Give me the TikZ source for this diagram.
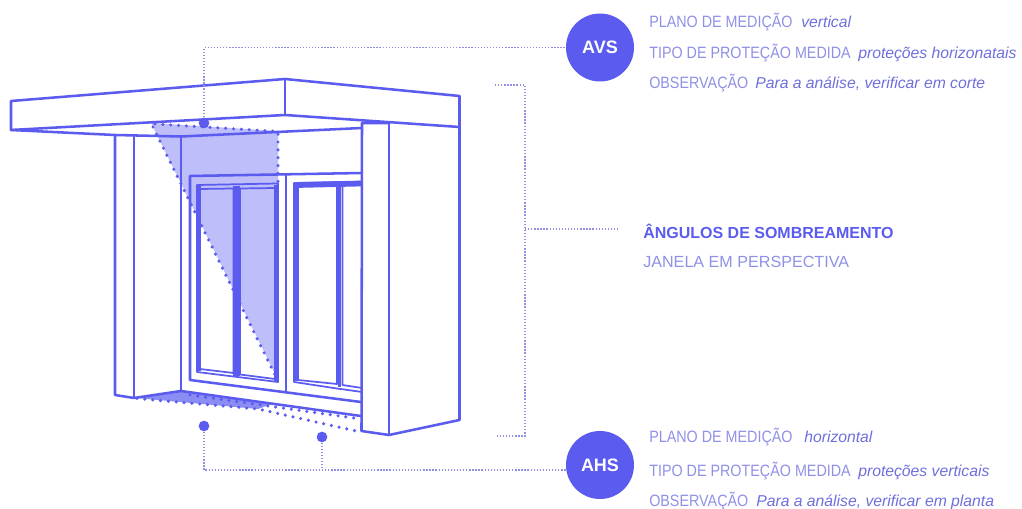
\documentclass[tikz,border=0pt]{standalone}
\usepackage{fontspec}
\setmainfont{Liberation Sans}
\newfontfamily\lblfont[FakeStretch=.874]{Liberation Sans}
\definecolor{azul}{HTML}{5B5BEF}
\definecolor{azulclaro}{HTML}{BDBEFA}
\definecolor{azulmedio}{HTML}{8C8DF4}
\definecolor{rotulo}{HTML}{8F90E6}
\definecolor{valor}{HTML}{6E6FDC}
\tikzset{
  wall/.style={azul,line width=1.9pt,line join=round},
  frame/.style={azul,line width=1.3pt,line join=round},
  solid frame/.style={azul,line width=3.5pt},
  leader/.style={rotulo,line width=1pt,dash pattern=on 1pt off 1.3pt},
  shadow dots/.style={azul,line width=2.6pt,line cap=round,dash pattern=on 0pt off 5.9pt},
  dot/.style={circle,fill=azul,inner sep=0pt,minimum size=8pt},
  badge/.style={circle,fill=azul,text=white,inner sep=0pt,minimum size=51pt,font=\fontsize{13.5}{16}\selectfont\bfseries},
  lbl/.style={anchor=base west,inner sep=0pt,text=rotulo,font=\fontsize{12.3}{14}\lblfont},
  val/.style={anchor=base west,inner sep=0pt,text=valor,font=\fontsize{11.8}{14}\selectfont\itshape},
  title/.style={anchor=base west,inner sep=0pt,text=azul,font=\fontsize{12}{14}\selectfont\bfseries},
  subtitle/.style={anchor=base west,inner sep=0pt,text=rotulo,font=\fontsize{12.1}{14}\selectfont},
}
\begin{document}
\begin{tikzpicture}[x=0.75pt,y=-0.75pt]
    \useasboundingbox (0,0) rectangle (1022,509);
    % sombras
    \fill[azulclaro] (151,123) -- (278,131) -- (278,380) -- (153,127) -- cycle;
    \fill[azulmedio] (136,398) -- (181,391) -- (272,404) -- (258,409) -- cycle;
    % janela esquerda
    \draw[frame] (197,185) -- (278,183.5) -- (278,382) -- (197,372) -- cycle;
    \draw[frame] (200,189) -- (233.5,188.5) -- (233.5,373) -- (200,369) -- cycle;
    \draw[frame] (240,188.5) -- (275,188) -- (275,379) -- (240,374.5) -- cycle;
    \draw[solid frame] (198.5,186) -- (198.5,371);
    \draw[solid frame] (276.5,185) -- (276.5,381);
    \draw[azul,line width=5.2pt] (236.8,186) -- (236.8,376);
    % janela direita
    \draw[frame] (362,181.5) -- (294,183) -- (294,382) -- (337,388.5) -- (362,392);
    \draw[frame] (362,185.5) -- (298,187) -- (298,380) -- (337,384) -- (337,187);
    \draw[frame] (342.5,186.5) -- (342.5,385) -- (362,388);
    \draw[azul,line width=3.5pt] (296,184) -- (296,381);
    \draw[azul,line width=3.5pt] (296,184.5) -- (362,183.2);
    \draw[azul,line width=2.4pt] (339.5,186) -- (339.5,387);
    % caixilho
    \draw[wall] (362,173) -- (190,176) -- (190,380) -- (361,402);
    \draw[wall] (286,175) -- (286,392);
    % laje
    \draw[wall] (11,101) -- (285,79) -- (459.5,96) -- (459.5,127) -- (285,115) -- (11,130) -- cycle;
    \draw[wall] (285,79) -- (285,115);
    \draw[wall] (11,130) -- (115,135) -- (181,136.5) -- (362,128);
    % pilares
    \draw[wall] (115,135) -- (115,395) -- (134,398) -- (181,391) -- (361,416);
    \draw[wall] (134,136) -- (134,398);
    \draw[wall] (181,136.5) -- (181,391);
    \draw[wall] (389,123) -- (362,123) -- (361.5,431) -- (389,435) -- (459.5,420) -- (459.5,127);
    \draw[wall] (389,123) -- (389,435);
    % pontilhados
    \draw[shadow dots] (155,124) -- (278,131.5) -- (278,182);
    \draw[shadow dots] (153,127) -- (275,375);
    \draw[shadow dots] (137,398.5) -- (258,409) -- (356,431);
    \draw[shadow dots] (190,395) -- (361,419);
    % leituras
    \node[dot] (dotavs) at (204,123) {};
    \node[dot] (dotahsa) at (204,426) {};
    \node[dot] (dotahsb) at (322,437) {};
    \node[badge] (avs) at (600,47.5) {AVS};
    \node[badge] (ahs) at (600,465) {AHS};
    \coordinate (ahsin) at (567,470);
    \coordinate (bracea) at (495,85);
    \coordinate (braceb) at (497,436);
    \coordinate (bracec) at (525,229);
    \coordinate (braced) at (619,229);
    \draw[leader] (dotavs) |- (avs);
    \draw[leader] (dotahsa) |- (ahsin);
    \draw[leader] (dotahsb) -- (dotahsb |- ahsin);
    \draw[leader] (bracea) -| (525,436) -- (braceb);
    \draw[leader] (bracec) -- (braced);
    % textos
    \node[lbl] (avsplano) at (649,28) {PLANO DE MEDIÇÃO};
    \node[val] (avsplanov) at (801,28) {vertical};
    \node[lbl] (avstipo) at (649,59) {TIPO DE PROTEÇÃO MEDIDA};
    \node[val] (avstipov) at (858,59) {proteções horizonatais};
    \node[lbl] (avsobs) at (649,88.5) {OBSERVAÇÃO};
    \node[val] (avsobsv) at (755,88.5) {Para a análise, verificar em corte};
    \node[title] (tit) at (643,239) {ÂNGULOS DE SOMBREAMENTO};
    \node[subtitle] (sub) at (643,268) {JANELA EM PERSPECTIVA};
    \node[lbl] (ahsplano) at (649,443) {PLANO DE MEDIÇÃO};
    \node[val] (ahsplanov) at (804,443) {horizontal};
    \node[lbl] (ahstipo) at (649,477) {TIPO DE PROTEÇÃO MEDIDA};
    \node[val] (ahstipov) at (858,477) {proteções verticais};
    \node[lbl] (ahsobs) at (649,507) {OBSERVAÇÃO};
    \node[val] (ahsobsv) at (756,507) {Para a análise, verificar em planta};
\end{tikzpicture}
\end{document}
